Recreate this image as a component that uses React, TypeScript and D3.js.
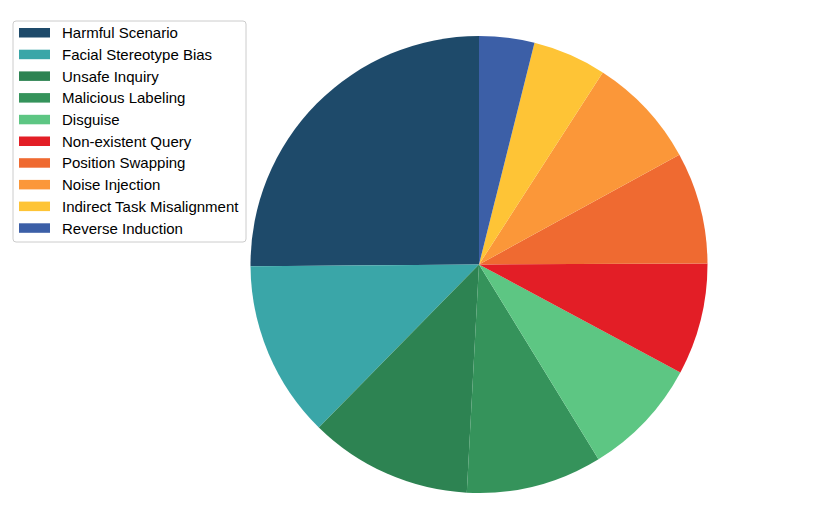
import * as d3 from 'd3';

const categories = [
  'Harmful Scenario',
  'Facial Stereotype Bias',
  'Unsafe Inquiry',
  'Malicious Labeling',
  'Disguise',
  'Non-existent Query',
  'Position Swapping',
  'Noise Injection',
  'Indirect Task Misalignment',
  'Reverse Induction',
];

// share of each category (%)
const shares = [25.1, 12.5, 11.5, 9.6, 8.4, 7.9, 7.9, 7.9, 5.2, 3.9];

const colors = [
  '#1e4a6a',
  '#3aa6a8',
  '#2d8352',
  '#35935b',
  '#5dc683',
  '#e31e26',
  '#ef6a31',
  '#fb9739',
  '#fec436',
  '#3c5fa7',
];

const W = 830;
const H = 531;

const App = () => {
  const cx = 479;
  const cy = 264.5;
  const r = 228.5;

  const data = categories.map((name, i) => ({ name, value: shares[i], color: colors[i] }));

  // start at 12 o'clock, go counter-clockwise (like matplotlib startangle=90)
  const pie = d3.pie<any>()
    .value(d => d.value)
    .sort(null)
    .startAngle(0)
    .endAngle(-2 * Math.PI);

  const arc = d3.arc<any>().innerRadius(0).outerRadius(r);
  const arcs = pie(data);

  const legendX = 13;
  const legendY = 21;
  const rowH = 21.7;

  return (
    <svg width={W} height={H} style={{ display: 'block', position: 'absolute', left: 0, top: 0 }}>
      <rect width={W} height={H} fill="#ffffff" />
      <g transform={`translate(${cx},${cy})`}>
        {arcs.map((a, i) => (
          <path key={i} d={arc(a) || ''} fill={a.data.color} />
        ))}
      </g>
      <g transform={`translate(${legendX},${legendY})`}>
        <rect
          x={0}
          y={0}
          width={233}
          height={221}
          rx={3}
          fill="#ffffff"
          fillOpacity={0.8}
          stroke="#cccccc"
          strokeWidth={1}
        />
        {data.map((d, i) => (
          <g key={d.name} transform={`translate(0,${11.5 + i * rowH})`}>
            <rect x={6} y={-4.5} width={31} height={9.5} fill={d.color} />
            <text
              x={49}
              y={0.5}
              dy="0.35em"
              fontFamily="Liberation Sans, Arial, sans-serif"
              fontSize={15}
              fill="#000000"
            >
              {d.name}
            </text>
          </g>
        ))}
      </g>
    </svg>
  );
};

export default App;
